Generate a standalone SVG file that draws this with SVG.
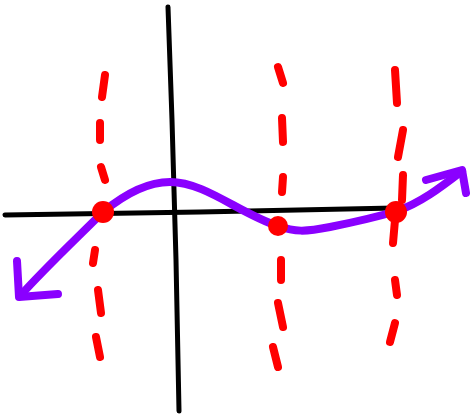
<svg xmlns="http://www.w3.org/2000/svg" width="470" height="416" viewBox="0 0 470 416">
<style>
.axis{stroke:#000;stroke-width:5;stroke-linecap:round;fill:none}
.dash{stroke:#ff0000;stroke-width:8;stroke-linecap:round;stroke-linejoin:round;fill:none}
.curve{stroke:#8a00ff;stroke-width:8;stroke-linecap:round;stroke-linejoin:round;fill:none}
.dot{fill:#ff0000}
</style>
<rect width="470" height="416" fill="#fff"/>
<g id="axes">
<path class="axis" d="M168 7 L172 120 L176 260 L179 411"/>
<path class="axis" d="M5 215 L200 212 L395 208"/>
</g>
<g id="dashes">
<path class="dash" d="M105 75 L102 97 M100 123 L100 140 M101 167 L105 180 M95 250 L93 263 M98 290 L101 313 M96 337 L100 357"/>
<path class="dash" d="M278 67 L283 83 M282 118 L283 142 M283 177 L282 192 M281 260 L281 280 M278 303 L283 327 M273 347 L278 367"/>
<path class="dash" d="M395 70 L397 103 M403 130 L398 157 M403 175 L402 200 M395 220 L393 243 M395 280 L397 295 M395 323 L390 342"/>
</g>
<g id="curve">
<path class="curve" d="M20 296 C45 268 75 240 103 212 C120 198 145 182 170 182 C205 182 240 214 278 226 C295 232 305 232 330 227 C360 221 380 216 397 211 C420 203 440 188 462 171"/>
<path class="curve" d="M17 261 L19 297 L58 294"/>
<path class="curve" d="M426 180 L462 170 L466 193"/>
</g>
<g id="points">
<circle class="dot" cx="103" cy="212" r="11"/>
<circle class="dot" cx="278" cy="226" r="10"/>
<circle class="dot" cx="396" cy="212" r="11"/>
</g>
</svg>
